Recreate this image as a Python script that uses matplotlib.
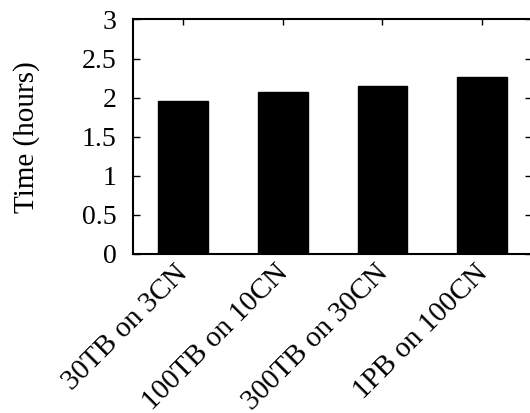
import matplotlib
matplotlib.use("Agg")
import matplotlib.pyplot as plt
import matplotlib.transforms as mtransforms

# Dane
labels = ["30TB on 3CN", "100TB on 10CN", "300TB on 30CN", "1PB on 100CN"]
hours = [1.96, 2.07, 2.15, 2.26]
y_ticks = [0, 0.5, 1, 1.5, 2, 2.5, 3]
y_tick_labels = ["0", "0.5", "1", "1.5", "2", "2.5", "3"]

plt.rcParams['font.family'] = 'Liberation Serif'

fig = plt.figure(figsize=(5.3, 4.13), dpi=100)
ax = fig.add_axes([0.251, 0.385, 0.753, 0.568])

x = list(range(len(labels)))
ax.bar(x, hours, width=0.5, color='black', edgecolor='black')

ax.set_xlim(-0.5, len(labels) - 0.5)
ax.set_ylim(0, 3)
ax.set_yticks(y_ticks)
ax.set_yticklabels(y_tick_labels, fontsize=20)
ax.set_xticks(x)
ax.set_xticklabels([])
ax.set_ylabel("Time (hours)", fontsize=21, labelpad=30)

# etykiety osi x - obrócone o 45 stopni, lekko przesunięte w lewo
trans = ax.get_xaxis_transform() + mtransforms.ScaledTranslation(-8 / 100, -6 / 100, fig.dpi_scale_trans)
for xi, lbl in zip(x, labels):
    ax.text(xi, 0, lbl, transform=trans, fontsize=21, rotation=45,
            ha='right', va='top', rotation_mode='anchor', clip_on=False)

for s in ax.spines.values():
    s.set_linewidth(1.5)
ax.tick_params(axis='y', direction='in', length=5, width=1, right=True, pad=12)
ax.tick_params(axis='x', direction='in', length=4, width=1, top=True)

fig.savefig("out.png", dpi=100)
